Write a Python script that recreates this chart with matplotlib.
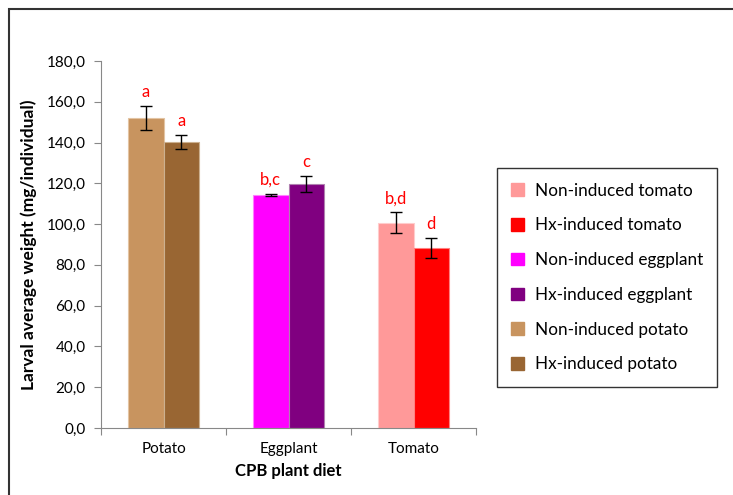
import matplotlib.pyplot as plt
import numpy as np
from matplotlib.patches import Patch, Rectangle

plt.rcParams['font.family'] = ['Lato', 'DejaVu Sans']

# data
diets = ['Potato', 'Eggplant', 'Tomato']
non_induced = [152.2, 114.4, 100.7]
hx_induced = [140.1, 119.7, 88.3]
non_err = [5.9, 0.4, 5.0]
hx_err = [3.4, 4.0, 4.7]
non_letters = ['a', 'b,c', 'b,d']
hx_letters = ['a', 'c', 'd']

non_colors = ['#C8945F', '#FF00FF', '#FF9999']
hx_colors = ['#996633', '#800080', '#FF0000']
edge_non = ['#E3C4A3', '#FF80FF', '#FFCCCC']
edge_hx = ['#CCB08F', '#B080B0', '#FF8080']

legend_labels = ['Non-induced tomato', 'Hx-induced tomato', 'Non-induced eggplant',
                 'Hx-induced eggplant', 'Non-induced potato', 'Hx-induced potato']
legend_colors = ['#FF9999', '#FF0000', '#FF00FF', '#800080', '#C8945F', '#996633']

fig = plt.figure(figsize=(7.33, 4.95), dpi=100)
ax = fig.add_axes([0.1378, 0.1354, 0.5116, 0.7414])

x = np.arange(len(diets))
w = 0.285
ax.bar(x - w / 2, non_induced, w, color=non_colors, edgecolor=edge_non, linewidth=0.8, zorder=2)
ax.bar(x + w / 2, hx_induced, w, color=hx_colors, edgecolor=edge_hx, linewidth=0.8, zorder=2)
ax.errorbar(x - w / 2, non_induced, yerr=non_err, fmt='none', ecolor='black',
            elinewidth=1, capsize=4, capthick=1, zorder=3)
ax.errorbar(x + w / 2, hx_induced, yerr=hx_err, fmt='none', ecolor='black',
            elinewidth=1, capsize=4, capthick=1, zorder=3)

for i in range(len(diets)):
    ax.text(x[i] - w / 2, non_induced[i] + non_err[i] + 3, non_letters[i],
            ha='center', va='bottom', color='red', fontsize=12)
    ax.text(x[i] + w / 2, hx_induced[i] + hx_err[i] + 3, hx_letters[i],
            ha='center', va='bottom', color='red', fontsize=12)

ax.set_xlim(-0.5, 2.5)
ax.set_ylim(0, 180)
ax.set_yticks(np.arange(0, 181, 20))
ax.set_yticklabels([f'{v:.1f}'.replace('.', ',') for v in np.arange(0, 181, 20)], fontsize=11)
ax.set_xticks([-0.5, 0.5, 1.5, 2.5])
ax.set_xticklabels([])
ax.set_xticks(x, minor=True)
ax.set_xticklabels(diets, minor=True, fontsize=11)
ax.tick_params(axis='x', which='minor', length=0, pad=10)
ax.tick_params(axis='x', which='major', length=5, color='#888888', direction='out')
ax.tick_params(axis='y', length=5, color='#888888', direction='out', pad=6)

for s in ['top', 'right']:
    ax.spines[s].set_visible(False)
for s in ['left', 'bottom']:
    ax.spines[s].set_color('#888888')

ax.set_xlabel('CPB plant diet', fontsize=12, fontweight='bold', labelpad=5)
ax.set_ylabel('Larval average weight (mg/individual)', fontsize=12.5, fontweight='bold', labelpad=7)

handles = [Patch(facecolor=c, edgecolor=c) for c in legend_colors]
leg = fig.legend(handles, legend_labels, loc='upper left', bbox_to_anchor=(0.678, 0.6606),
                 frameon=True, fancybox=False, edgecolor='black', fontsize=12.3,
                 handlelength=0.75, handleheight=0.75, handletextpad=0.6,
                 labelspacing=1.1, borderpad=0.85, borderaxespad=0)
leg.get_frame().set_linewidth(1.0)

# outer frame
fig.patches.append(Rectangle((9 / 733, -0.1), 1.2, 1 - 9 / 495 + 0.1, transform=fig.transFigure,
                             fill=False, edgecolor='#333333', linewidth=1.5))

fig.savefig('out.png', dpi=100)
